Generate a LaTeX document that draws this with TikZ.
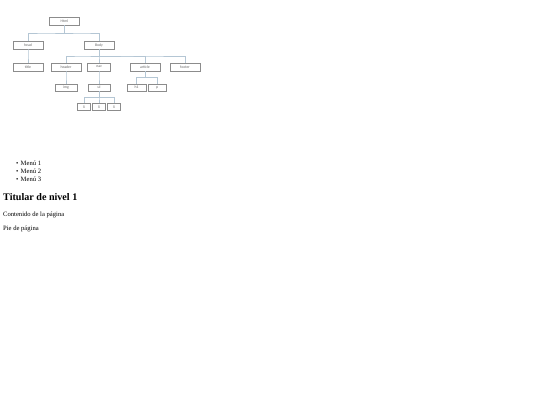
\documentclass[tikz,border=0pt]{standalone}
\usepackage{fontspec}
\setmainfont{Liberation Serif}
\newfontfamily\boxfont{Carlito}
\definecolor{LinkBlue}{RGB}{180, 198, 212}
\definecolor{BoxGray}{RGB}{140, 140, 140}
\usepackage{tikz}
\usetikzlibrary{calc}

\begin{document}
\begin{tikzpicture}[x=1pt, y=-1pt,
        box/.style={draw=BoxGray, line width=0.3pt, rectangle, fill=white, minimum width=30pt, minimum height=8pt, inner sep=0pt, font=\boxfont\fontsize{3.8}{4}\selectfont, text=black!60},
        small/.style={box, minimum width=22pt, minimum height=7pt},
        link/.style={draw=LinkBlue, line width=0.45pt, to path={(\tikztostart.south) |- ($(\tikztostart.south)!0.5!(\tikztotarget.north)$) -| (\tikztotarget.north)}},
        txt/.style={anchor=west, inner sep=0pt, font=\fontsize{6.6}{7}\selectfont}]

        \useasboundingbox (0,0) rectangle (540,405);

        % Level 1
        \node[box] (html) at (64.5,21) {Html};

        % Level 2
        \node[box] (head) at (28,45) {head};
        \node[box] (body) at (99,45) {Body};

        % Level 3
        \node[box] (title) at (28,67) {title};
        \node[box] (header) at (66,67) {header};
        \node[box, minimum width=23pt] (nav) at (99,67) {nav};
        \node[box] (article) at (145,67) {article};
        \node[box] (footer) at (185,67) {footer};

        % Level 4
        \node[small] (img) at (66,87.5) {img};
        \node[small] (ul) at (99,87.5) {ul};
        \node[small, minimum width=19pt] (h1) at (136.5,87.5) {h1};
        \node[small, minimum width=18pt] (p) at (157,87.5) {p};

        % Level 5
        \node[small, minimum width=13pt] (li1) at (84,107) {li};
        \node[small, minimum width=13pt] (li2) at (99,107) {li};
        \node[small, minimum width=13pt] (li3) at (114,107) {li};

        % Links
        \draw[link] (html) to (head);
        \draw[link] (html) to (body);
        \draw[link] (head) to (title);
        \draw[link] (body) to (header);
        \draw[link] (body) to (nav);
        \draw[link] (body) to (article);
        \draw[link] (body) to (footer);
        \draw[link] (header) to (img);
        \draw[link] (nav) to (ul);
        \draw[link] (article) to (h1);
        \draw[link] (article) to (p);
        \draw[link] (ul) to (li1);
        \draw[link] (ul) to (li2);
        \draw[link] (ul) to (li3);

        % Page text
        \node[txt] (m1) at (16,163) {\textbullet\hspace{2.2pt}Menú 1};
        \node[txt] (m2) at (16,171) {\textbullet\hspace{2.2pt}Menú 2};
        \node[txt] (m3) at (16,179) {\textbullet\hspace{2.2pt}Menú 3};
        \node[txt, font=\bfseries\fontsize{10.1}{12}\selectfont] (h) at (3,197) {Titular de nivel 1};
        \node[txt] (c) at (3,215) {Contenido de la página};
        \node[txt] (f) at (3,229) {Pie de página};

    \end{tikzpicture}
\end{document}
